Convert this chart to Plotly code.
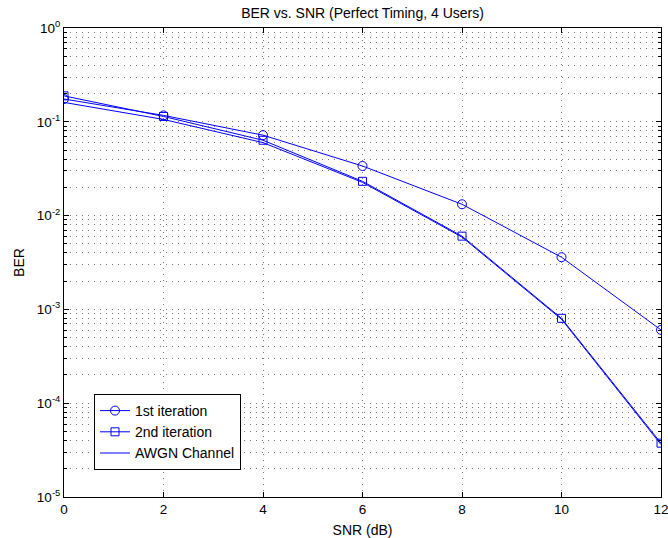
import plotly.graph_objects as go

snr = [0, 2, 4, 6, 8, 10, 12]
ber_iter1 = [0.175, 0.117, 0.072, 0.0338, 0.0132, 0.0036, 0.000604]
ber_iter2 = [0.189, 0.114, 0.0636, 0.0232, 0.00604, 0.000803, 3.75e-5]
ber_awgn = [0.161, 0.106, 0.0600, 0.0226, 0.00590, 0.000785, 3.62e-5]

x_ticks = [0, 2, 4, 6, 8, 10, 12]
y_ticks = [1e-5, 1e-4, 1e-3, 1e-2, 1e-1, 1e0]
y_ticktext = ["10<sup>-5</sup>", "10<sup>-4</sup>", "10<sup>-3</sup>",
              "10<sup>-2</sup>", "10<sup>-1</sup>", "10<sup>0</sup>"]
y_minor = [m * 10.0 ** k for k in range(-5, 0) for m in range(2, 10)]

BLUE = "rgb(0,0,255)"
FONT = "Liberation Sans, Arial, sans-serif"
FS = 14
GRID = "#777"
grid_dash = "1px,5px"

fig = go.Figure()
fig.add_trace(go.Scatter(x=snr, y=ber_iter1, mode="lines+markers", name="1st iteration",
                         line=dict(color=BLUE, width=1),
                         marker=dict(symbol="circle-open", size=9, color=BLUE, line=dict(width=1))))
fig.add_trace(go.Scatter(x=snr, y=ber_iter2, mode="lines+markers", name="2nd iteration",
                         line=dict(color=BLUE, width=1),
                         marker=dict(symbol="square-open", size=8, color=BLUE, line=dict(width=1))))
fig.add_trace(go.Scatter(x=snr, y=ber_awgn, mode="lines", name="AWGN Channel",
                         line=dict(color=BLUE, width=1)))

fig.update_layout(
    width=668, height=538,
    margin=dict(l=64, r=7, t=28, b=41, autoexpand=False),
    paper_bgcolor="white", plot_bgcolor="white",
    font=dict(family=FONT, size=FS, color="black"),
    title=dict(text="BER vs. SNR (Perfect Timing, 4 Users)", x=(64 + 661) / 2 / 668, xanchor="center",
               y=1 - 13 / 538, yanchor="middle", yref="container",
               font=dict(family=FONT, size=FS, color="black")),
    showlegend=True,
    legend=dict(x=30 / 597, y=(497 - 394) / 469, xanchor="left", yanchor="top",
                bgcolor="white", bordercolor="black", borderwidth=1,
                font=dict(family=FONT, size=FS, color="black"),
                tracegroupgap=0),
    xaxis=dict(range=[0, 12], tickvals=x_ticks, ticks="inside", ticklen=5, tickcolor="black",
               tickfont=dict(size=13.5), automargin=False, ticklabeloverflow="allow",
               showline=True, linecolor="black", linewidth=1, mirror="allticks",
               showgrid=True, gridcolor=GRID, griddash=grid_dash, gridwidth=1,
               zeroline=False,
               title=dict(text="SNR (dB)", standoff=9, font=dict(family=FONT, size=FS))),
    yaxis=dict(type="log", range=[-5, 0], tickvals=y_ticks, ticktext=y_ticktext,
               tickfont=dict(size=13.5), automargin=False, ticklabeloverflow="allow",
               ticks="inside", ticklen=5, tickcolor="black",
               showline=True, linecolor="black", linewidth=1, mirror="allticks",
               showgrid=True, gridcolor=GRID, griddash=grid_dash, gridwidth=1,
               zeroline=False,
               minor=dict(tickvals=y_minor, ticks="inside", ticklen=3, tickcolor="black",
                          showgrid=True, gridcolor=GRID, griddash=grid_dash, gridwidth=1),
               title=dict(text="BER", standoff=8, font=dict(family=FONT, size=FS))),
)

fig.write_html("out.html")
